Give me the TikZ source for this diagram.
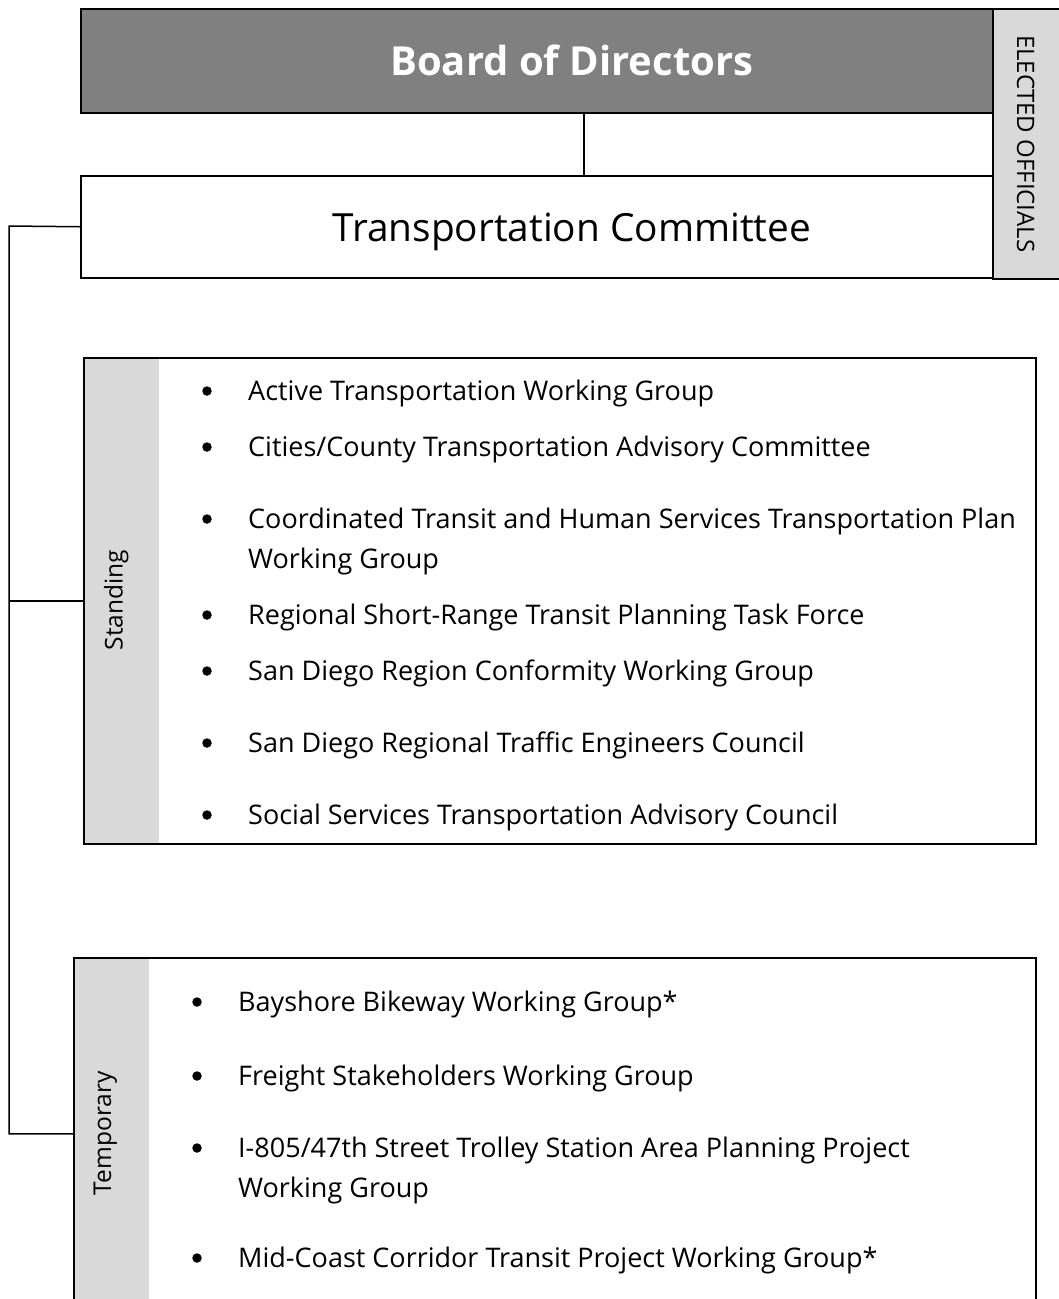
\documentclass[tikz,border=0pt]{standalone}
\usepackage{fontspec}
\setmainfont{Open Sans}
\usetikzlibrary{positioning}
\definecolor{boardgray}{HTML}{808080}
\definecolor{stripgray}{HTML}{D9D9D9}
\begin{document}
\begin{tikzpicture}[x=1pt,y=-1pt,
    orgbox/.style={draw,line width=1.5pt,anchor=north west,inner sep=0pt},
    strip/.style={fill=stripgray,anchor=north west,inner sep=0pt,minimum width=76pt},
    conn/.style={line width=1.5pt},
    dot/.style={circle,fill,inner sep=0pt,minimum size=9.5pt},
    item/.style={anchor=west,inner sep=0pt,align=left,font=\fontsize{27}{40}\selectfont},
    side/.style={font=\fontsize{24.5}{28}\selectfont}
    ]
    \useasboundingbox (0,0) rectangle (1058,1299);
    % top of the chart
    \node[orgbox,fill=boardgray,minimum width=982pt,minimum height=104pt,
        text=white,font=\fontsize{40}{44}\selectfont\bfseries] (board) at (80,8) {Board of Directors};
    \node[orgbox,fill=white,minimum width=982pt,minimum height=102pt] (tc) at (80,175) {};
    \node[font=\fontsize{38.8}{42}\selectfont] (tctext) at ([yshift=-5pt]tc.center) {Transportation Committee};
    \node[orgbox,fill=stripgray,minimum width=70pt,minimum height=270pt] (elected) at (992,8) {};
    \node[rotate=-90,font=\fontsize{24}{28}\selectfont] (eltext) at ([xshift=-2pt]elected.center) {ELECTED OFFICIALS};
    \draw[conn] ([xshift=12pt]board.south) -- ([xshift=12pt]tc.north);

    % standing groups
    \node[strip,minimum height=486pt] (ststrip) at (83,357) {};
    \node[orgbox,minimum width=952pt,minimum height=486pt] (standing) at (83,357) {};
    \node[side,rotate=90] (stlabel) at ([xshift=-5pt]ststrip.center) {Standing};
    \foreach \n/\yb/\yt/\txt in {1/391/393/{Active Transportation Working Group},
        2/447/449/{Cities/County Transportation Advisory Committee},
        3/519/541/{Coordinated Transit and Human Services Transportation Plan\\Working Group},
        4/615/617/{Regional Short-Range Transit Planning Task Force},
        5/671/673/{San Diego Region Conformity Working Group},
        6/743/745/{San Diego Regional Traffic Engineers Council},
        7/815/817/{Social Services Transportation Advisory Council}}
    {
        \node[dot] (sb\n) at (207,\yb) {};
        \node[item] (s\n) at (248,\yt) {\txt};
    }

    % temporary groups
    \node[strip,minimum height=352pt] (tpstrip) at (73,957) {};
    \node[orgbox,minimum width=962pt,minimum height=352pt] (temporary) at (73,957) {};
    \node[side,rotate=90] (tplabel) at ([xshift=-6pt]tpstrip.center) {Temporary};
    \foreach \n/\yb/\yt/\txt in {1/1002/1004/{Bayshore Bikeway Working Group*},
        2/1076/1078/{Freight Stakeholders Working Group},
        3/1148/1170/{I-805/47th Street Trolley Station Area Planning Project\\Working Group},
        4/1258/1260/{Mid-Coast Corridor Transit Project Working Group*}}
    {
        \node[dot] (tb\n) at (197,\yb) {};
        \node[item] (t\n) at (238,\yt) {\txt};
    }

    % left trunk
    \coordinate (trunk) at (9,226);
    \draw[conn] (tc.west) -- (trunk) -- (trunk |- temporary.west) -- (temporary.west);
    \draw[conn] (trunk |- standing.west) -- (standing.west);
\end{tikzpicture}
\end{document}
